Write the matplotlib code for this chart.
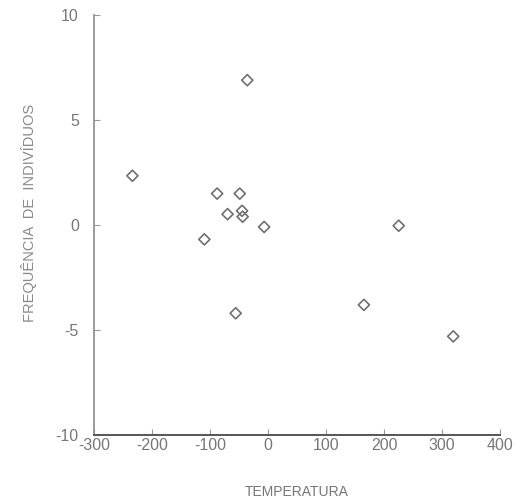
import matplotlib.pyplot as plt

# temperatura vs frequencia
temperatura = [-36, -234, -88, -49, -70, -45, -44, -7, 225, -110, -56, 165, 319]
frequencia = [6.9, 2.35, 1.5, 1.5, 0.52, 0.68, 0.4, -0.09, -0.03, -0.68, -4.2, -3.8, -5.3]

xticks = [-300, -200, -100, 0, 100, 200, 300, 400]
xlabels = ['-300', '-200', '-100', '0', '100', '200', '300', '400']
yticks = [-10, -5, 0, 5, 10]
ylabels = ['-10', '-5', '0', '5', '10']

plt.rcParams['font.family'] = ['Liberation Sans', 'DejaVu Sans']
plt.rcParams['axes.unicode_minus'] = False

fig = plt.figure(figsize=(5.2, 5.03), dpi=100)
ax = fig.add_axes([0.181, 0.135, 0.781, 0.835])

ax.scatter(temperatura, frequencia, marker='D', s=32, facecolors='none',
           edgecolors='#707070', linewidths=1.2)

ax.set_xlim(-300, 400)
ax.set_ylim(-10, 10)
ax.set_xticks(xticks)
ax.set_xticklabels(xlabels)
ax.set_yticks(yticks)
ax.set_yticklabels(ylabels)

for s in ['top', 'right']:
    ax.spines[s].set_visible(False)
ax.spines['left'].set_color('#8a8a8a')
ax.spines['bottom'].set_color('#555555')
ax.spines['left'].set_linewidth(1.2)
ax.spines['bottom'].set_linewidth(1.4)

ax.tick_params(direction='in', length=4, color='#999999', labelcolor='#777777',
               labelsize=11.5)
ax.tick_params(axis='y', pad=11)
ax.tick_params(axis='x', pad=2)

ax.set_xlabel('TEMPERATURA', color='#777777', fontsize=10)
ax.xaxis.set_label_coords(0.5, -0.12)
ax.set_ylabel('FREQUÊNCIA  DE  INDIVÍDUOS', color='#8a8a8a', fontsize=10.5)
ax.yaxis.set_label_coords(-0.14, 0.53)

fig.savefig('out.png', dpi=100)
